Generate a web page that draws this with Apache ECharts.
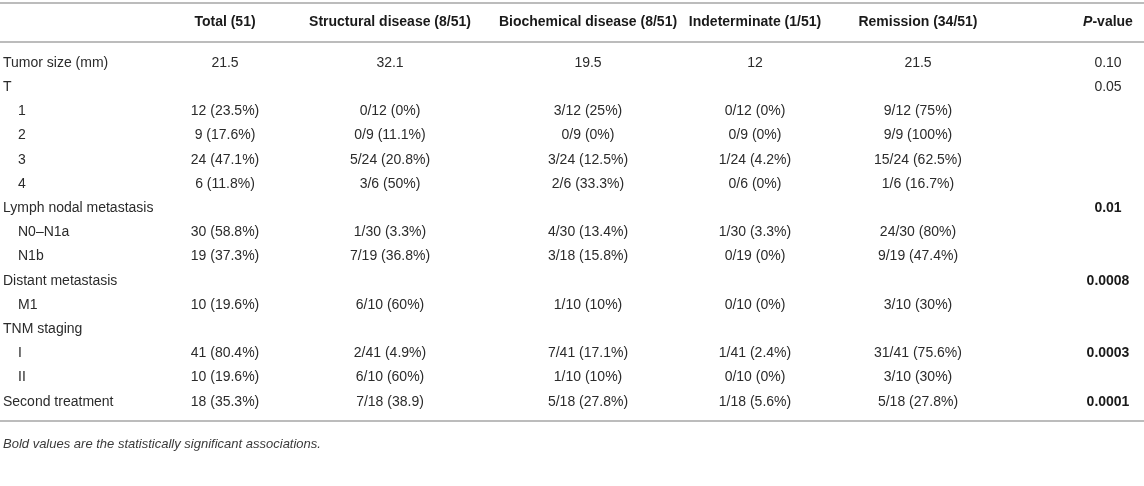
<!DOCTYPE html>
<html>
<head>
<meta charset="utf-8">
<script src="https://cdn.jsdelivr.net/npm/echarts@6/dist/echarts.min.js"></script>
<style>
html,body{margin:0;padding:0;background:#fff;}
#chart{width:1144px;height:486px;}
</style>
</head>
<body>
<div id="chart"></div>
<script>
// ---- data ----
const columnHeaders = ['Total (51)', 'Structural disease (8/51)', 'Biochemical disease (8/51)', 'Indeterminate (1/51)', 'Remission (34/51)', 'P-value'];
const rowLabels = ['Tumor size (mm)', 'T', '1', '2', '3', '4', 'Lymph nodal metastasis', 'N0\u2013N1a', 'N1b', 'Distant metastasis', 'M1', 'TNM staging', 'I', 'II', 'Second treatment'];
const rowIndented = [false, false, true, true, true, true, false, true, true, false, true, false, true, true, false];
const totalValues = ['21.5', '', '12 (23.5%)', '9 (17.6%)', '24 (47.1%)', '6 (11.8%)', '', '30 (58.8%)', '19 (37.3%)', '', '10 (19.6%)', '', '41 (80.4%)', '10 (19.6%)', '18 (35.3%)'];
const structuralValues = ['32.1', '', '0/12 (0%)', '0/9 (11.1%)', '5/24 (20.8%)', '3/6 (50%)', '', '1/30 (3.3%)', '7/19 (36.8%)', '', '6/10 (60%)', '', '2/41 (4.9%)', '6/10 (60%)', '7/18 (38.9)'];
const biochemicalValues = ['19.5', '', '3/12 (25%)', '0/9 (0%)', '3/24 (12.5%)', '2/6 (33.3%)', '', '4/30 (13.4%)', '3/18 (15.8%)', '', '1/10 (10%)', '', '7/41 (17.1%)', '1/10 (10%)', '5/18 (27.8%)'];
const indeterminateValues = ['12', '', '0/12 (0%)', '0/9 (0%)', '1/24 (4.2%)', '0/6 (0%)', '', '1/30 (3.3%)', '0/19 (0%)', '', '0/10 (0%)', '', '1/41 (2.4%)', '0/10 (0%)', '1/18 (5.6%)'];
const remissionValues = ['21.5', '', '9/12 (75%)', '9/9 (100%)', '15/24 (62.5%)', '1/6 (16.7%)', '', '24/30 (80%)', '9/19 (47.4%)', '', '3/10 (30%)', '', '31/41 (75.6%)', '3/10 (30%)', '5/18 (27.8%)'];
const pValues = ['0.10', '0.05', '', '', '', '', '0.01', '', '', '0.0008', '', '', '0.0003', '', '0.0001'];
const pSignificant = [false, false, false, false, false, false, true, false, false, true, false, false, true, false, true];
const footnote = 'Bold values are the statistically significant associations.';

// ---- layout (not data) ----
const colCenters = [225, 390, 588, 755, 918, 1108];
const labelX = 3, indentX = 18;
const ROW0 = 63, STEP = 24.2;
const headerRow = (22 - ROW0) / STEP;
const ruleRows = [(3 - ROW0) / STEP, (42 - ROW0) / STEP, (421 - ROW0) / STEP];
const footnoteRow = (444 - ROW0) / STEP;
const FONT = '"Liberation Sans", Arial, Helvetica, sans-serif';
const FS = 14;

const valueColumns = [totalValues, structuralValues, biochemicalValues, indeterminateValues, remissionValues];

const cells = [];
columnHeaders.forEach((h, c) => cells.push({ value: [colCenters[c], headerRow], text: h, kind: c === 5 ? 'headerP' : 'header', align: 'center' }));
rowLabels.forEach((lab, r) => {
  cells.push({ value: [rowIndented[r] ? indentX : labelX, r], text: lab, kind: 'body', align: 'left' });
  valueColumns.forEach((col, c) => {
    if (col[r]) cells.push({ value: [colCenters[c], r], text: col[r], kind: 'body', align: 'center' });
  });
  if (pValues[r]) cells.push({ value: [colCenters[5], r], text: pValues[r], kind: pSignificant[r] ? 'bold' : 'body', align: 'center' });
});
cells.push({ value: [labelX, footnoteRow], text: footnote, kind: 'foot', align: 'left' });

const chart = echarts.init(document.getElementById('chart'), null, { renderer: 'canvas' });
chart.setOption({
  backgroundColor: '#ffffff',
  animation: false,
  grid: { left: 0, right: 0, top: 0, bottom: 0 },
  xAxis: { type: 'value', min: 0, max: 1144, show: false },
  yAxis: { type: 'value', min: -ROW0 / STEP, max: (486 - ROW0) / STEP, inverse: true, show: false },
  series: [
    {
      type: 'custom',
      data: ruleRows.map(y => ({ value: [0, y] })),
      renderItem: function (params, api) {
        const p1 = api.coord([0, api.value(1)]);
        const p2 = api.coord([1144, api.value(1)]);
        const y = Math.round(p1[1]);
        return { type: 'line', shape: { x1: p1[0], y1: y, x2: p2[0], y2: y }, style: { stroke: '#bcbcbc', lineWidth: 2 } };
      }
    },
    {
      type: 'custom',
      data: cells,
      renderItem: function (params, api) {
        const d = cells[params.dataIndex];
        const p = api.coord([api.value(0), api.value(1)]);
        if (d.kind === 'headerP') {
          const f = 'bold ' + FS + 'px ' + FONT;
          const fi = 'italic bold ' + FS + 'px ' + FONT;
          return {
            type: 'text', x: p[0], y: p[1],
            style: {
              text: '{i|P}{b|-value}', align: 'center', verticalAlign: 'middle',
              rich: { i: { font: fi, fill: '#1a1a1a' }, b: { font: f, fill: '#1a1a1a' } }
            }
          };
        }
        let font = FS + 'px ' + FONT, fill = '#2b2b2b';
        if (d.kind === 'header' || d.kind === 'bold') { font = 'bold ' + FS + 'px ' + FONT; fill = '#1a1a1a'; }
        if (d.kind === 'foot') { font = 'italic 13px ' + FONT; fill = '#3a3a3a'; }
        return { type: 'text', x: p[0], y: p[1], style: { text: d.text, font: font, fill: fill, align: d.align, verticalAlign: 'middle' } };
      }
    }
  ]
});
</script>
</body>
</html>
